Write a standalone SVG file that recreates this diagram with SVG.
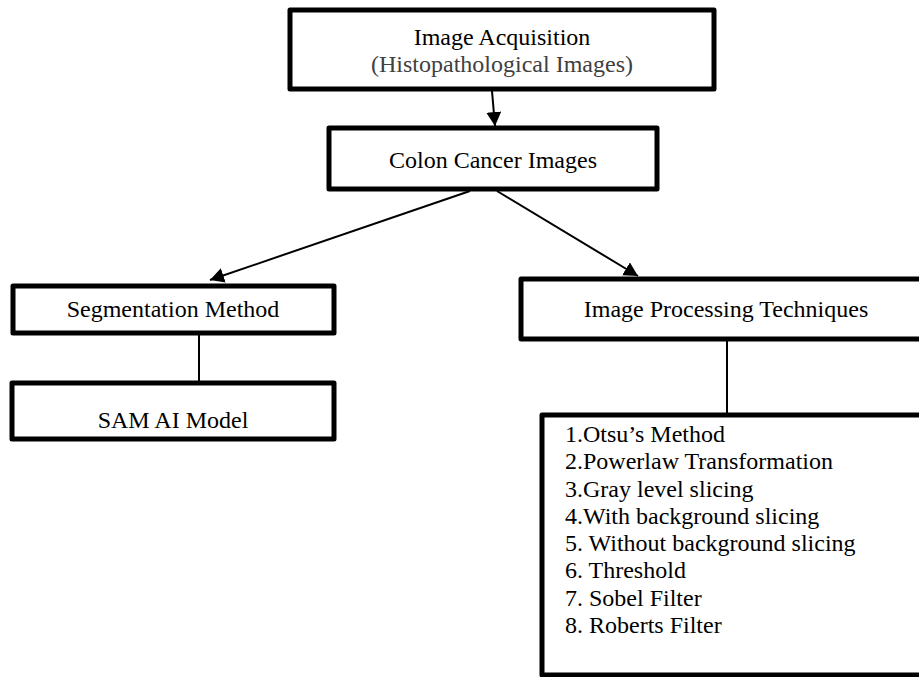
<svg xmlns="http://www.w3.org/2000/svg" width="919" height="677" viewBox="0 0 919 677">
<style>
.box{fill:#fff;stroke:#000;stroke-width:5;stroke-linejoin:round}
.t{font-family:"Liberation Serif","Times New Roman",serif;font-size:24px;fill:#000}
.c{text-anchor:middle}
.line{stroke:#000;stroke-width:2;fill:none}
</style>
<defs>
<marker id="ah" markerUnits="userSpaceOnUse" markerWidth="16" markerHeight="16" refX="14" refY="7.5" orient="auto">
<path d="M0,0 L14,7.5 L0,15 Z" fill="#000"/>
</marker>
</defs>
<rect width="919" height="677" fill="#fff"/>
<g id="connectors">
<line class="line" x1="492" y1="91" x2="495" y2="126" marker-end="url(#ah)"/>
<line class="line" x1="470" y1="191" x2="210" y2="280" marker-end="url(#ah)"/>
<line class="line" x1="497" y1="191" x2="638" y2="276" marker-end="url(#ah)"/>
<line class="line" x1="199" y1="335" x2="199" y2="381"/>
<line class="line" x1="727" y1="341" x2="727" y2="413"/>
</g>
<g id="image-acquisition">
<rect class="box" x="290" y="10" width="424" height="79"/>
<text class="t c" x="502" y="45">Image Acquisition</text>
<text class="t c" x="502" y="72" style="fill:#404040">(Histopathological Images)</text>
</g>
<g id="colon-cancer-images">
<rect class="box" x="329" y="128" width="328" height="61"/>
<text class="t c" x="493" y="168">Colon Cancer Images</text>
</g>
<g id="segmentation-method">
<rect class="box" x="13" y="286" width="321" height="47"/>
<text class="t c" x="173" y="317">Segmentation Method</text>
</g>
<g id="sam-ai-model">
<rect class="box" x="12" y="383" width="322" height="56"/>
<text class="t c" x="173" y="428">SAM AI Model</text>
</g>
<g id="image-processing-techniques">
<rect class="box" x="521" y="279" width="410" height="60"/>
<text class="t c" x="726" y="317">Image Processing Techniques</text>
</g>
<g id="techniques-list">
<rect class="box" x="542" y="415" width="400" height="260"/>
<text class="t" x="565" y="442">1.Otsu’s Method</text>
<text class="t" x="565" y="469">2.Powerlaw Transformation</text>
<text class="t" x="565" y="497">3.Gray level slicing</text>
<text class="t" x="565" y="524">4.With background slicing</text>
<text class="t" x="565" y="551">5. Without background slicing</text>
<text class="t" x="565" y="578">6. Threshold</text>
<text class="t" x="565" y="606">7. Sobel Filter</text>
<text class="t" x="565" y="633">8. Roberts Filter</text>
</g>
</svg>
